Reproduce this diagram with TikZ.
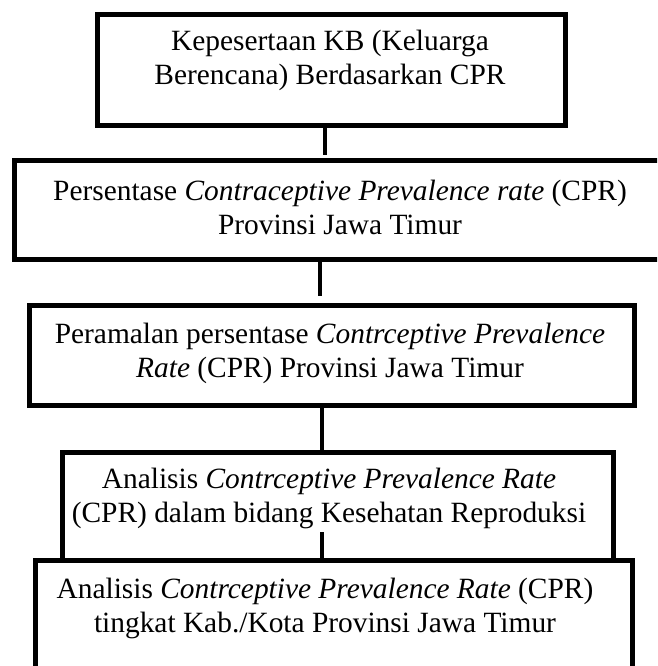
\documentclass[tikz,border=0pt]{standalone}
\usepackage{fontspec}
\setmainfont{Liberation Serif}
\begin{document}
\begin{tikzpicture}[x=1pt,y=-1pt,
  box/.style={draw, rectangle, line width=5pt, inner sep=0pt},
  lbl/.style={align=center, inner sep=0pt, font=\fontsize{29.4}{34}\selectfont},
  conn/.style={line width=4.5pt}]
\useasboundingbox (0,0) rectangle (657,666);
\clip (0,0) rectangle (657,666);
\fill[white] (0,0) rectangle (657,666);
% boxes
\node[box, minimum width=468pt, minimum height=111pt] (b1) at (331.5,70) {};
\node[box, minimum width=685.5pt, minimum height=99pt] (b2) at (357.25,210) {};
\node[box, minimum width=605pt, minimum height=100pt] (b3) at (332,355.5) {};
\node[box, minimum width=551pt, minimum height=108pt] (b4) at (338,506.5) {};
\node[box, minimum width=597pt, minimum height=159.5pt] (b5) at (334,640.25) {};
% texts
\node[lbl] (t1) at (330,60) {Kepesertaan KB (Keluarga\\Berencana) Berdasarkan CPR};
\node[lbl] (t2) at (340,207.5) {Persentase \textit{Contraceptive Prevalence rate} (CPR)\\Provinsi Jawa Timur};
\node[lbl] (t3) at (330,353) {Peramalan persentase \textit{Contrceptive Prevalence}\\\textit{Rate} (CPR) Provinsi Jawa Timur};
\node[lbl] (t4) at (329,498.5) {Analisis \textit{Contrceptive Prevalence Rate}\\(CPR) dalam bidang Kesehatan Reproduksi};
\node[lbl] (t5) at (325,608) {Analisis \textit{Contrceptive Prevalence Rate} (CPR)\\tingkat Kab./Kota Provinsi Jawa Timur};
% connectors
\coordinate (x1) at (325,0);
\coordinate (x2) at (320,0);
\coordinate (x3) at (322,0);
\draw[conn, shorten >=3pt] (b1.south -| x1) -- (b2.north -| x1);
\draw[conn, shorten >=7pt] (b2.south -| x2) -- (b3.north -| x2);
\draw[conn] (b3.south -| x3) -- (b4.north -| x3);
\coordinate (s4) at (322,532);
\draw[conn] (s4) -- (s4 |- b5.north);
\end{tikzpicture}
\end{document}
